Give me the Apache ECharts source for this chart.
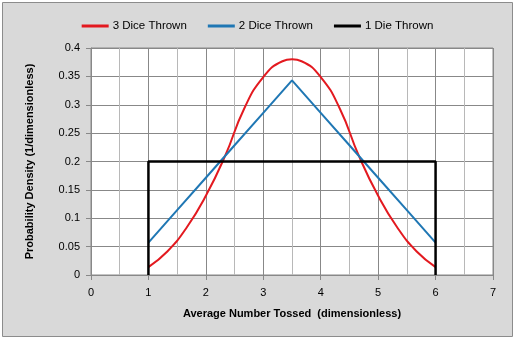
<!DOCTYPE html>
<html>
<head>
<meta charset="utf-8">
<script src="https://cdn.jsdelivr.net/npm/echarts@6/dist/echarts.min.js"></script>
<style>
  html, body { margin: 0; padding: 0; background: #ffffff; }
  #chart { width: 515px; height: 340px; }
</style>
</head>
<body>
<div id="chart"></div>
<script>
// Probability density of the average of N dice, normalised over [1, 6]
const seriesNames = ['3 Dice Thrown', '2 Dice Thrown', '1 Die Thrown'];

const threeDiceX = [1, 1.3333, 1.6667, 2, 2.3333, 2.6667, 3, 3.3333, 3.5, 3.6667, 4, 4.3333, 4.6667, 5, 5.3333, 5.6667, 6];
const threeDiceY = [0.0140, 0.0419, 0.0837, 0.1395, 0.2093, 0.2930, 0.3488, 0.3767, 0.3800, 0.3767, 0.3488, 0.2930, 0.2093, 0.1395, 0.0837, 0.0419, 0.0140];

const twoDiceX = [1, 1.5, 2, 2.5, 3, 3.5, 4, 4.5, 5, 5.5, 6];
const twoDiceY = [0.0571, 0.1143, 0.1714, 0.2286, 0.2857, 0.3429, 0.2857, 0.2286, 0.1714, 0.1143, 0.0571];

const oneDieX = [1, 1, 2, 3, 4, 5, 6, 6];
const oneDieY = [0, 0.2, 0.2, 0.2, 0.2, 0.2, 0.2, 0];

const xTicks = [0, 1, 2, 3, 4, 5, 6, 7];
const yTicks = [0, 0.05, 0.1, 0.15, 0.2, 0.25, 0.3, 0.35, 0.4];

const colors = ['#e3191f', '#1f77b4', '#000000'];

const pairs = (xs, ys) => xs.map((x, i) => [x, ys[i]]);

const FONT = '"Liberation Sans", Arial, sans-serif';

const chart = echarts.init(document.getElementById('chart'), null, { renderer: 'canvas' });

chart.setOption({
  backgroundColor: '#ffffff',
  animation: false,
  graphic: [{
    type: 'rect',
    z: -10,
    silent: true,
    shape: { x: 2.5, y: 2.5, width: 510, height: 334 },
    style: { fill: '#d9d9d9', stroke: '#8c8c8c', lineWidth: 1 }
  }],
  legend: {
    top: 15,
    left: 'center',
    itemWidth: 27,
    itemHeight: 3,
    itemGap: 21,
    icon: 'rect',
    textStyle: { fontFamily: FONT, fontSize: 11.5, color: '#000', padding: [0, 0, 0, -1] },
    data: seriesNames
  },
  grid: {
    left: 91, right: 22, top: 48, bottom: 65,
    show: true,
    backgroundColor: '#ffffff',
    borderColor: '#888888',
    borderWidth: 1
  },
  xAxis: {
    type: 'value',
    min: xTicks[0],
    max: xTicks[xTicks.length - 1],
    interval: 1,
    name: 'Average Number Tossed  (dimensionless)',
    nameLocation: 'middle',
    nameGap: 33,
    nameTextStyle: { fontFamily: FONT, fontSize: 11, fontWeight: 'bold', color: '#000' },
    axisLine: { show: true, lineStyle: { color: '#888888', width: 1 } },
    axisTick: { show: true, length: 5, lineStyle: { color: '#888888' } },
    minorTick: { show: false, splitNumber: 2 },
    axisLabel: { fontFamily: FONT, fontSize: 11, color: '#000', margin: 12 },
    splitLine: { show: true, lineStyle: { color: '#888888', width: 1 } },
    minorSplitLine: { show: true, lineStyle: { color: '#b8b8b8', width: 1 } }
  },
  yAxis: {
    type: 'value',
    min: yTicks[0],
    max: yTicks[yTicks.length - 1],
    interval: 0.05,
    name: 'Probability Density (1/dimensionless)',
    nameLocation: 'middle',
    nameGap: 56,
    nameTextStyle: { fontFamily: FONT, fontSize: 11, fontWeight: 'bold', color: '#000' },
    axisLine: { show: true, lineStyle: { color: '#888888', width: 1 } },
    axisTick: { show: true, length: 5, lineStyle: { color: '#888888' } },
    axisLabel: { fontFamily: FONT, fontSize: 11, color: '#000', margin: 11,
      formatter: v => String(Math.round(v * 100) / 100) },
    splitLine: { show: true, lineStyle: { color: '#888888', width: 1 } }
  },
  series: [
    {
      name: seriesNames[0], type: 'line', smooth: 0.5, showSymbol: false, z: 2,
      data: pairs(threeDiceX, threeDiceY),
      lineStyle: { color: colors[0], width: 2 }, itemStyle: { color: colors[0] }
    },
    {
      name: seriesNames[1], type: 'line', smooth: false, showSymbol: false, z: 3,
      data: pairs(twoDiceX, twoDiceY),
      lineStyle: { color: colors[1], width: 2 }, itemStyle: { color: colors[1] }
    },
    {
      name: seriesNames[2], type: 'line', smooth: false, showSymbol: false, z: 4,
      data: pairs(oneDieX, oneDieY),
      lineStyle: { color: colors[2], width: 2.5 }, itemStyle: { color: colors[2] }
    }
  ]
});
</script>
</body>
</html>
